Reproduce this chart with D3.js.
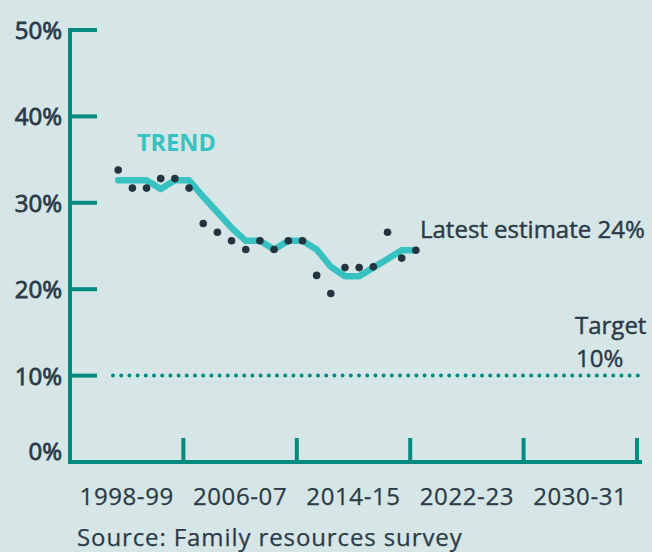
<!DOCTYPE html>
<html>
<head>
<meta charset="utf-8">
<script src="https://cdn.jsdelivr.net/npm/d3@7"></script>
<style>
  body { margin: 0; background: #d6e6e6; }
  svg { display: block; font-family: "Open Sans", "Noto Sans", sans-serif; }
</style>
</head>
<body>
<script>
// financial years (start year), 1997-98 .. 2018-19
var years = [1997, 1998, 1999, 2000, 2001, 2002, 2003, 2004, 2005, 2006, 2007,
             2008, 2009, 2010, 2011, 2012, 2013, 2014, 2015, 2016, 2017, 2018];
// yearly survey estimate (%)
var estimate = [33.8, 31.7, 31.7, 32.8, 32.8, 31.7, 27.6, 26.6, 25.6, 24.6, 25.6,
                24.6, 25.6, 25.6, 21.6, 19.5, 22.5, 22.5, 22.6, 26.6, 23.6, 24.5];
// smoothed trend (%)
var trend = [32.6, 32.6, 32.6, 31.6, 32.6, 32.6, 30.7, 28.9, 27.1, 25.6, 25.6,
             24.6, 25.6, 25.6, 24.6, 22.6, 21.5, 21.5, 22.5, 23.5, 24.5, 24.5];
var yTicks = [0, 10, 20, 30, 40, 50];
var xLabels = ["1998-99", "2006-07", "2014-15", "2022-23", "2030-31"];
var target = 10;
var latest = 24;

var w = 652, h = 552;
var teal = "#008a80", trendCol = "#38c1c1", dark = "#2b3a47";

var svg = d3.select("body").append("svg")
    .attr("width", w)
    .attr("height", h)
    .attr("class", "chart");

var x = d3.scaleLinear().domain([1993.6, 2033.6]).range([70, 637]);
var y = d3.scaleLinear().domain([0, 50]).range([462, 30]);

// x tick boundaries every 8 years, labels sit in the middle of each band
var xBounds = d3.range(0, xLabels.length + 1).map(function(i){ return 1993.6 + i * 8; });

// target line
svg.append("line")
    .attr("class", "target")
    .attr("x1", 113).attr("x2", 640)
    .attr("y1", y(target)).attr("y2", y(target))
    .style("stroke", teal)
    .style("stroke-width", 4)
    .style("stroke-linecap", "round")
    .style("stroke-dasharray", "0 8.2");

// axes
svg.append("line")
    .attr("x1", 70).attr("x2", 70)
    .attr("y1", y(50) - 2).attr("y2", y(0) + 2)
    .style("stroke", teal).style("stroke-width", 4);
svg.append("line")
    .attr("x1", 68).attr("x2", 642)
    .attr("y1", y(0)).attr("y2", y(0))
    .style("stroke", teal).style("stroke-width", 4);

svg.selectAll(".ytick").data(yTicks.slice(1)).enter().append("line")
    .attr("class", "ytick")
    .attr("x1", 70).attr("x2", 97)
    .attr("y1", function(d){ return y(d); })
    .attr("y2", function(d){ return y(d); })
    .style("stroke", teal).style("stroke-width", 4);

svg.selectAll(".xtick").data(xBounds.slice(1)).enter().append("line")
    .attr("class", "xtick")
    .attr("x1", function(d){ return x(d); })
    .attr("x2", function(d){ return x(d); })
    .attr("y1", y(0)).attr("y2", y(0) - 24)
    .style("stroke", teal).style("stroke-width", 4);

// semi-bold look: regular weight plus a thin outline
svg.selectAll(".ylab").data(yTicks).enter().append("text")
    .attr("class", "ylab")
    .attr("x", 62)
    .attr("y", function(d){ return d === 0 ? y(d) - 2 : y(d) + 9; })
    .attr("text-anchor", "end")
    .style("font-size", "24px")
    .style("fill", dark)
    .style("stroke", dark)
    .style("stroke-width", 0.8)
    .text(function(d){ return d + "%"; });

svg.selectAll(".xlab").data(xLabels).enter().append("text")
    .attr("class", "xlab")
    .attr("x", function(d, i){ return (x(xBounds[i]) + x(xBounds[i + 1])) / 2; })
    .attr("y", 505)
    .attr("text-anchor", "middle")
    .style("font-size", "24px")
    .style("letter-spacing", "0.6px")
    .style("fill", dark)
    .style("stroke", dark)
    .style("stroke-width", 0.25)
    .text(function(d){ return d; });

// trend line
var line = d3.line()
    .x(function(d, i){ return x(years[i]); })
    .y(function(d){ return y(d); });

svg.append("path")
    .datum(trend)
    .attr("class", "trend")
    .attr("d", line)
    .style("fill", "none")
    .style("stroke", trendCol)
    .style("stroke-width", 6.5)
    .style("stroke-linecap", "round")
    .style("stroke-linejoin", "round");

// survey points
svg.selectAll(".pt").data(estimate).enter().append("circle")
    .attr("class", "pt")
    .attr("cx", function(d, i){ return x(years[i]); })
    .attr("cy", function(d){ return y(d); })
    .attr("r", 3.8)
    .style("fill", "#233340");

// annotations
svg.append("text")
    .attr("x", 137).attr("y", 151)
    .style("font-size", "23.5px").style("font-weight", 700)
    .style("fill", trendCol)
    .text("TREND");

var notes = svg.append("g")
    .attr("class", "notes")
    .style("font-size", "24px")
    .style("fill", dark)
    .style("stroke", dark)
    .style("stroke-width", 0.45);

notes.append("text")
    .attr("x", 420).attr("y", 238)
    .text("Latest estimate " + latest + "%");

notes.append("text")
    .attr("x", 575).attr("y", 334)
    .text("Target");
notes.append("text")
    .attr("x", 576).attr("y", 367)
    .text(target + "%");

svg.append("text")
    .attr("x", 77).attr("y", 546)
    .style("font-size", "24px")
    .style("letter-spacing", "0.9px")
    .style("fill", dark)
    .style("stroke", dark)
    .style("stroke-width", 0.25)
    .text("Source: Family resources survey");
</script>
</body>
</html>
